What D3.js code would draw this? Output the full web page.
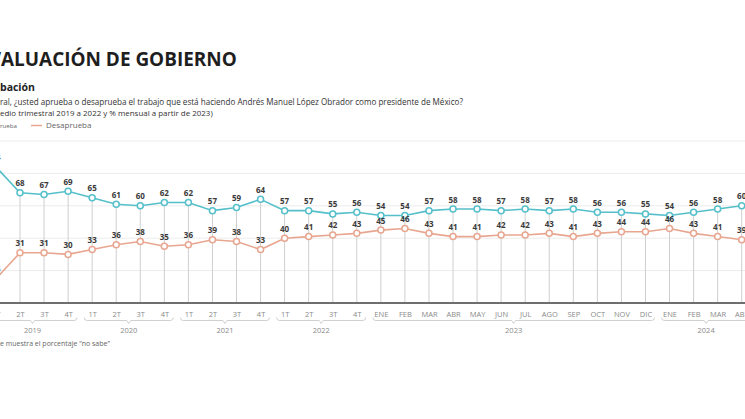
<!DOCTYPE html>
<html lang="es">
<head>
<meta charset="UTF-8">
<script src="https://cdn.jsdelivr.net/npm/d3@7"></script>
<style>
  html, body { margin: 0; padding: 0; background: #fff; }
  svg { display: block; font-family: "Open Sans", "DejaVu Sans", sans-serif; }
</style>
</head>
<body>
<script>
const w = 745;
const h = 419;

// periodo (trimestre hasta 2022, mes desde 2023)
const tickLabels = ["1T","2T","3T","4T", "1T","2T","3T","4T", "1T","2T","3T","4T", "1T","2T","3T","4T",
                    "ENE","FEB","MAR","ABR","MAY","JUN","JUL","AGO","SEP","OCT","NOV","DIC",
                    "ENE","FEB","MAR","ABR"];
const tickYears = ["2019","2019","2019","2019", "2020","2020","2020","2020", "2021","2021","2021","2021",
                   "2022","2022","2022","2022",
                   "2023","2023","2023","2023","2023","2023","2023","2023","2023","2023","2023","2023",
                   "2024","2024","2024","2024"];
const years = ["2019","2020","2021","2022","2023","2024"];
const aprueba    = [84,68,67,69, 65,61,60,62, 62,57,59,64, 57,57,55,56,
                    54,54,57,58,58,57,58,57,58,56,56,55, 54,56,58,60];
const desaprueba = [15,31,31,30, 33,36,38,35, 36,39,38,33, 40,41,42,43,
                    45,46,43,41,41,42,42,43,41,43,44,44, 46,43,41,39];
const gridValues = [20,40,60,80,100];

const tealColor = "#55bfca";
const salmonColor = "#e8a690";

const keys = tickLabels.map((d, i) => tickYears[i] + "-" + d);

const svg = d3.select("body").append("svg")
    .attr("width", w)
    .attr("height", h);

// text that is cut by the left edge of the picture: place so the visible part spans [x0, x1]
function cropText(prefix, visible, x0, x1, y, size, weight, color) {
    const t = svg.append("text")
        .attr("y", y)
        .style("font-size", size + "px")
        .style("font-weight", weight)
        .attr("fill", color)
        .text(visible);
    const vw = t.node().getComputedTextLength();
    const fs = size * (x1 - x0) / vw;
    t.style("font-size", fs + "px").text(prefix);
    const pw = prefix ? t.node().getComputedTextLength() : 0;
    t.text(prefix + visible).attr("x", x0 - pw);
    return t;
}

// headings
cropText("EV", "ALUACIÓN DE GOBIERNO", 1, 237, 66, 21, 700, "#1e1e1e");
cropText("Apro", "bación", 0, 35, 91, 12, 700, "#222");
cropText("En gene", "ral, ¿usted aprueba o desaprueba el trabajo que está haciendo Andrés Manuel López Obrador como presidente de México?",
         0, 464, 105, 8.5, 400, "#333");
cropText("(Prom", "edio trimestral 2019 a 2022 y % mensual a partir de 2023)", 0, 213, 116, 8.5, 400, "#333");

// legend
cropText("Ap", "rueba", 0, 17, 128, 8, 400, "#666");
svg.append("line")
    .attr("x1", 31).attr("x2", 42).attr("y1", 125.5).attr("y2", 125.5)
    .attr("stroke", salmonColor).attr("stroke-width", 1.5);
svg.append("text")
    .attr("x", 46).attr("y", 128)
    .style("font-size", "8px")
    .attr("fill", "#666")
    .text("Desaprueba");

// scales
const xScale = d3.scalePoint()
    .domain(keys)
    .range([-4.06, 741.7]);

const yScale = d3.scaleLinear()
    .domain([0, 100])
    .range([303, 141]);

// grid
svg.append("g")
    .selectAll("line")
    .data(gridValues)
    .enter()
    .append("line")
    .attr("x1", 0).attr("x2", w)
    .attr("y1", d => yScale(d)).attr("y2", d => yScale(d))
    .attr("stroke", "#ececec")
    .attr("stroke-width", 1);

// drop lines
svg.append("g")
    .selectAll("line")
    .data(keys)
    .enter()
    .append("line")
    .attr("x1", d => xScale(d)).attr("x2", d => xScale(d))
    .attr("y1", (d, i) => yScale(aprueba[i]))
    .attr("y2", yScale(0))
    .attr("stroke", "#cfcfcf")
    .attr("stroke-width", 1);

// x axis baseline
const xAxis = d3.axisBottom(xScale)
    .tickSize(0)
    .tickPadding(9)
    .tickFormat((d, i) => tickLabels[i]);

const axisG = svg.append("g")
    .attr("transform", "translate(0," + yScale(0) + ")")
    .call(xAxis);
axisG.select(".domain").remove();
axisG.selectAll("text")
    .style("font-size", "7.5px")
    .style("font-family", "'Open Sans', sans-serif")
    .attr("fill", "#8a8a8a");

svg.append("line")
    .attr("x1", 0).attr("x2", w)
    .attr("y1", yScale(0)).attr("y2", yScale(0))
    .attr("stroke", "#6e6e6e")
    .attr("stroke-width", 2);

// year brackets
years.forEach(yr => {
    const idx = keys.map((k, i) => i).filter(i => tickYears[i] === yr);
    const left = xScale(keys[idx[0]]) - 8;
    const right = xScale(keys[idx[idx.length - 1]]) + 9;
    const mid = (left + right) / 2;
    const by = 320.5;
    svg.append("path")
        .attr("d", `M${left},${by - 3} Q${left},${by} ${left + 3},${by} L${mid - 2},${by} L${mid},${by + 3} L${mid + 2},${by} L${right - 3},${by} Q${right},${by} ${right},${by - 3}`)
        .attr("fill", "none")
        .attr("stroke", "#c4c4c4")
        .attr("stroke-width", 0.8);
    svg.append("text")
        .attr("x", mid)
        .attr("y", 333)
        .attr("text-anchor", "middle")
        .style("font-size", "7.5px")
        .attr("fill", "#8a8a8a")
        .text(yr);
});

// series
const series = [
    { values: aprueba, color: tealColor },
    { values: desaprueba, color: salmonColor }
];

const line = d3.line()
    .x((d, i) => xScale(keys[i]))
    .y(d => yScale(d));

series.forEach(s => {
    svg.append("path")
        .datum(s.values)
        .attr("d", line)
        .attr("fill", "none")
        .attr("stroke", s.color)
        .attr("stroke-width", 1.6);

    svg.append("g")
        .selectAll("circle")
        .data(s.values)
        .enter()
        .append("circle")
        .attr("cx", (d, i) => xScale(keys[i]))
        .attr("cy", d => yScale(d))
        .attr("r", 3)
        .attr("fill", "#fff")
        .attr("stroke", s.color)
        .attr("stroke-width", 1.5);

    svg.append("g")
        .selectAll("text")
        .data(s.values)
        .enter()
        .append("text")
        .attr("x", (d, i) => xScale(keys[i]))
        .attr("y", d => yScale(d) - 6.5)
        .attr("text-anchor", "middle")
        .style("font-size", "8px")
        .style("font-weight", 700)
        .attr("fill", "#3a3a3a")
        .text(d => d);
});

// footnote
cropText("*No s", "e muestra el porcentaje “no sabe”", 0, 110, 346, 7.5, 400, "#666");
</script>
</body>
</html>
